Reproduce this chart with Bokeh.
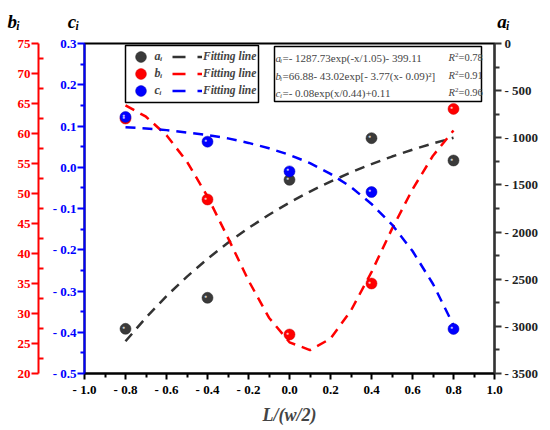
from bokeh.plotting import figure
from bokeh.models import (Range1d, LinearAxis, FixedTicker, Label, Legend, LegendItem,
                          BoxAnnotation, ColumnDataSource)
from bokeh.embed import file_html
from bokeh.resources import INLINE

FONT = "Liberation Serif"

# ---------------- data ----------------
pos = [-0.8, -0.4, 0.0, 0.4, 0.8]
a_vals = [-3026, -2697, -1446, -1004, -1241]
b_vals = [62.5, 49.0, 26.5, 35.0, 64.1]
c_vals = [0.122, 0.062, -0.010, -0.060, -0.392]

fit_x = [-0.8, -0.7, -0.6, -0.5, -0.4, -0.3, -0.2, -0.1, 0.0,
         0.1, 0.2, 0.3, 0.4, 0.5, 0.6, 0.7, 0.8]
fit_a = [-3158, -2907, -2679, -2472, -2284, -2113, -1957, -1816, -1687,
         -1570, -1464, -1367, -1279, -1199, -1126, -1060, -1000]
fit_b = [64.7, 62.8, 59.7, 55.3, 49.5, 42.6, 35.5, 29.3, 25.2,
         23.9, 25.8, 30.5, 36.9, 44.1, 50.7, 56.3, 60.5]
fit_c = [0.097, 0.094, 0.090, 0.084, 0.078, 0.070, 0.059, 0.046, 0.030,
         0.010, -0.016, -0.048, -0.089, -0.139, -0.203, -0.283, -0.383]

x_ticks = [-1.0, -0.8, -0.6, -0.4, -0.2, 0.0, 0.2, 0.4, 0.6, 0.8, 1.0]
x_tick_labels = ["- 1.0", "- 0.8", "- 0.6", "- 0.4", "- 0.2", "0.0", "0.2", "0.4", "0.6", "0.8", "1.0"]
c_ticks = [-0.5, -0.4, -0.3, -0.2, -0.1, 0.0, 0.1, 0.2, 0.3]
c_tick_labels = ["- 0.5", "- 0.4", "- 0.3", "- 0.2", "- 0.1", "0.0", "0.1", "0.2", "0.3"]
b_ticks = [20, 25, 30, 35, 40, 45, 50, 55, 60, 65, 70, 75]
b_tick_labels = ["20", "25", "30", "35", "40", "45", "50", "55", "60", "65", "70", "75"]
a_ticks = [-3500, -3000, -2500, -2000, -1500, -1000, -500, 0]
a_tick_labels = ["- 3500", "- 3000", "- 2500", "- 2000", "- 1500", "- 1000", "- 500", "0"]

formulas = ["=- 1287.73exp(-x/1.05)- 399.11",
            "=66.88- 43.02exp[- 3.77(x- 0.09)\u00b2]",
            "=- 0.08exp(x/0.44)+0.11"]
r2_texts = ["=0.78", "=0.91", "=0.96"]
names = ["a", "b", "c"]
legend_labels = ["a\u1d62", "b\u1d62", "c\u1d62"]
fit_label = "Fitting line"
x_title = "L/(w/2)"
top_titles = ["b\u1d62", "c\u1d62", "a\u1d62"]

BLACK = "#3a3a3a"
RED = "#ff0000"
BLUE = "#0000ff"
NB = "\u00a0"


def mids(t):
    return [(t[i] + t[i + 1]) / 2 for i in range(len(t) - 1)]


p = figure(width=550, height=430, output_backend="svg", toolbar_location=None,
           x_range=Range1d(-1.0, 1.0), y_range=Range1d(-0.5, 0.3),
           min_border_left=84, min_border_right=56, min_border_top=43, min_border_bottom=57)
p.extra_y_ranges = {"b": Range1d(20, 75), "a": Range1d(-3500, 0)}
p.grid.visible = False
p.outline_line_color = "black"
p.outline_line_width = 2
p.background_fill_color = "white"
p.border_fill_color = "white"

# axis titles on top, as one title line
p.title.text = top_titles[0] + NB * 10 + top_titles[1] + NB * 88 + top_titles[2]
p.title.text_font = FONT
p.title.text_font_style = "bold italic"
p.title.text_font_size = "19px"
p.title.text_color = "black"
p.title.align = "left"
p.title.vertical_align = "top"
p.title.offset = -77
p.title.standoff = 20


def style_axis(ax, color, lab_color, ticks, labels, t_out, m_in, m_out, standoff):
    ax.ticker = FixedTicker(ticks=ticks, minor_ticks=mids(ticks))
    ax.major_label_overrides = {t: l for t, l in zip(ticks, labels)}
    ax.axis_line_color = color
    ax.axis_line_width = 2
    ax.major_tick_line_color = color
    ax.major_tick_line_width = 2
    ax.minor_tick_line_color = color
    ax.minor_tick_line_width = 2
    ax.major_tick_in = 0
    ax.major_tick_out = t_out
    ax.minor_tick_in = m_in
    ax.minor_tick_out = m_out
    ax.major_label_text_color = lab_color
    ax.major_label_text_font = FONT
    ax.major_label_text_font_style = "bold"
    ax.major_label_text_font_size = "13px"
    ax.major_label_standoff = standoff


xax = p.xaxis[0]
style_axis(xax, "black", "black", x_ticks, x_tick_labels, 6, 0, 4, 2)
xax.axis_label = x_title
xax.axis_label_text_font = FONT
xax.axis_label_text_font_style = "bold italic"
xax.axis_label_text_font_size = "18px"
xax.axis_label_standoff = 5

cax = p.yaxis[0]
style_axis(cax, BLUE, BLUE, c_ticks, c_tick_labels, 7, 0, 4, 1)
cax.axis_label = NB
cax.axis_label_text_font_size = "5px"
cax.axis_label_standoff = 2

bax = LinearAxis(y_range_name="b")
style_axis(bax, RED, RED, b_ticks, b_tick_labels, 7, 5, 0, 1)
p.add_layout(bax, "left")

aax = LinearAxis(y_range_name="a")
style_axis(aax, "#333333", "#222222", a_ticks, a_tick_labels, 7, 0, 5, 3)
p.add_layout(aax, "right")

# ---------------- fitted curves ----------------
fsrc = ColumnDataSource(dict(x=fit_x, a=fit_a, b=fit_b, c=fit_c))
p.line("x", "a", source=fsrc, y_range_name="a", line_color="#333333", line_width=2.5, line_dash="10 7")
p.line("x", "b", source=fsrc, y_range_name="b", line_color=RED, line_width=2.5, line_dash="10 7")
p.line("x", "c", source=fsrc, line_color=BLUE, line_width=2.5, line_dash="10 7")

# ---------------- points ----------------
psrc = ColumnDataSource(dict(x=pos, a=a_vals, b=b_vals, c=c_vals, hl=["\u25cf"] * len(pos)))
ra = p.scatter("x", "a", source=psrc, y_range_name="a", size=11, fill_color=BLACK, line_color="#222222", line_width=0.5)
rb = p.scatter("x", "b", source=psrc, y_range_name="b", size=11, fill_color=RED, line_color="#cc0000", line_width=0.5)
rc = p.scatter("x", "c", source=psrc, size=11, fill_color=BLUE, line_color="#0000bb", line_width=0.5)
for col, rng in (("a", "a"), ("b", "b"), ("c", "default")):
    p.text("x", col, text="hl", source=psrc, y_range_name=rng, text_font_size="5px",
           text_color="white", text_alpha=0.75, x_offset=-2, y_offset=-2,
           text_align="center", text_baseline="middle")

# legend-only line samples (one NaN point: nothing drawn in the plot)
nan = float("nan")
lsrc = ColumnDataSource(dict(x=[nan], y=[nan]))
la = p.line("x", "y", source=lsrc, line_color="#333333", line_width=2.5, line_dash="13 12")
lb = p.line("x", "y", source=lsrc, line_color=RED, line_width=2.5, line_dash="13 12")
lc = p.line("x", "y", source=lsrc, line_color=BLUE, line_width=2.5, line_dash="13 12")

# legend frame
p.add_layout(BoxAnnotation(left=41, right=174, top=328, bottom=271,
                           left_units="screen", right_units="screen",
                           top_units="screen", bottom_units="screen",
                           fill_color="white", fill_alpha=1,
                           line_color="black", line_alpha=1, line_width=1.5))

font_kw = dict(label_text_font=FONT, label_text_font_style="bold italic",
               border_line_color=None, background_fill_alpha=0, margin=0,
               padding=0, orientation="vertical", label_standoff=1)
# one legend per marker row, so that the rows can sit closer than the marker box
for lab, rend, yb in zip(legend_labels, [ra, rb, rc], [303.5, 286.5, 269.5]):
    p.add_layout(Legend(items=[LegendItem(label=lab, renderers=[rend])],
                        location=(42.5, yb), glyph_width=27, glyph_height=27,
                        label_height=17, label_width=10, spacing=0,
                        label_text_font_size="12px", **font_kw), "center")
p.add_layout(Legend(items=[LegendItem(label=fit_label, renderers=[la]),
                           LegendItem(label=fit_label, renderers=[lb]),
                           LegendItem(label=fit_label, renderers=[lc])],
                    location=(88, 274.5), glyph_width=30, glyph_height=17, label_height=17,
                    spacing=0, label_width=50, label_text_font_size="11.5px", **font_kw),
             "center")

# ---------------- formula box ----------------
p.add_layout(BoxAnnotation(left=190, right=397, top=327, bottom=272,
                           left_units="screen", right_units="screen",
                           top_units="screen", bottom_units="screen",
                           fill_color="white", fill_alpha=1,
                           line_color="black", line_alpha=1, line_width=1.5))
rows_y = [316, 298, 281]
for nm, ftxt, r2, yy in zip(names, formulas, r2_texts, rows_y):
    p.add_layout(Label(x=191, y=yy, x_units="screen", y_units="screen", text=nm,
                       text_font=FONT, text_font_style="italic", text_font_size="11px",
                       text_baseline="middle"))
    p.add_layout(Label(x=195.5, y=yy - 3, x_units="screen", y_units="screen", text="i",
                       text_font=FONT, text_font_style="italic", text_font_size="7px",
                       text_baseline="middle"))
    p.add_layout(Label(x=198, y=yy, x_units="screen", y_units="screen", text=ftxt,
                       text_font=FONT, text_font_size="11px", text_baseline="middle"))
    p.add_layout(Label(x=364, y=yy, x_units="screen", y_units="screen", text="R",
                       text_font=FONT, text_font_style="italic", text_font_size="10.5px",
                       text_baseline="middle"))
    p.add_layout(Label(x=370.5, y=yy + 3, x_units="screen", y_units="screen", text="2",
                       text_font=FONT, text_font_size="7px", text_baseline="middle"))
    p.add_layout(Label(x=374, y=yy, x_units="screen", y_units="screen", text=r2,
                       text_font=FONT, text_font_size="10.5px", text_baseline="middle"))

open("out.html", "w").write(file_html(p, INLINE))
